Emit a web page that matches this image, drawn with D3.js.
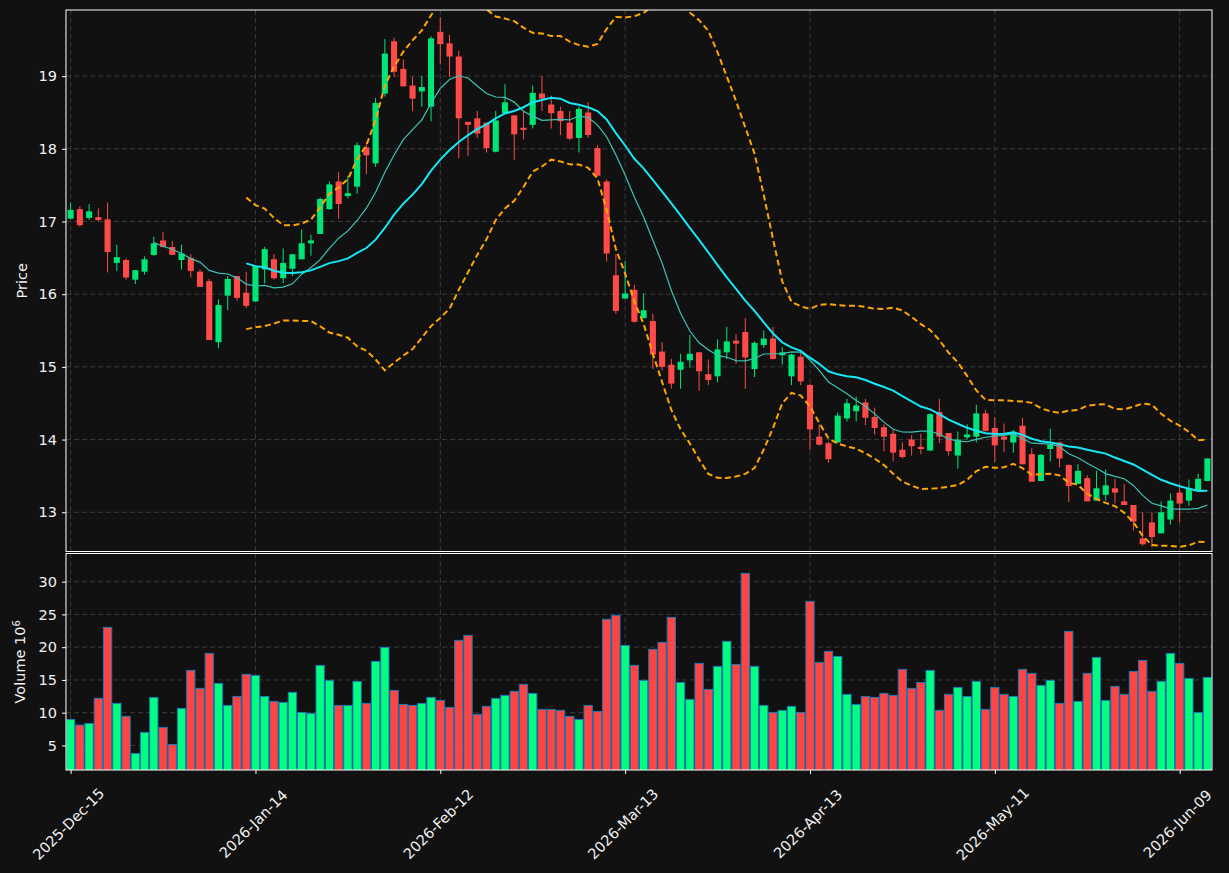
<!DOCTYPE html>
<html>
<head>
<meta charset="utf-8">
<script src="https://cdn.jsdelivr.net/npm/d3@7/dist/d3.min.js"></script>
<style>
  body { margin: 0; background: #111111; }
  svg text { font-family: "DejaVu Sans", sans-serif; fill: #f2f2f2; }
</style>
</head>
<body>
<div id="chart"></div>
<script>
// trading calendar
const startDate = "2025-12-15";
const holidays = ["2025-12-25", "2026-01-01", "2026-01-19", "2026-02-16", "2026-04-03", "2026-05-25"];

// OHLC in dollars, volume in millions
const opens = [17.04,17.17,17.05,17.06,17.03,16.43,16.47,16.20,16.31,16.54,16.74,16.65,16.47,16.50,16.31,16.18,15.34,15.98,16.25,16.02,
  15.90,16.34,16.48,16.22,16.35,16.48,16.70,16.83,17.17,17.55,17.35,17.48,18.02,17.80,18.76,19.48,19.10,18.87,18.79,18.58,
  19.61,19.45,19.27,18.37,18.42,18.36,17.96,18.49,18.46,18.29,18.33,18.76,18.61,18.52,18.36,18.15,18.50,18.01,17.55,16.26,
  15.94,16.06,15.67,15.63,15.21,15.03,14.96,15.09,15.20,14.90,14.87,15.20,15.36,15.48,14.97,15.30,15.39,15.16,14.87,15.14,
  14.75,14.04,13.95,13.96,14.29,14.39,14.51,14.31,14.17,14.08,13.86,14.00,13.90,13.85,14.38,14.09,13.78,14.03,14.04,14.36,
  14.16,14.04,13.96,14.19,13.80,13.43,13.87,13.96,13.65,13.39,13.47,13.16,13.24,13.33,13.15,13.10,12.64,12.86,12.71,12.90,
  13.27,13.16,13.29,13.43];
const highs = [17.26,17.21,17.24,17.18,17.26,16.68,16.49,16.33,16.52,16.79,16.86,16.73,16.68,16.55,16.34,16.21,15.93,16.25,16.25,16.31,
  16.39,16.65,16.55,16.63,16.55,16.89,16.82,17.33,17.55,17.68,17.63,18.09,18.09,18.70,19.51,19.53,19.23,18.99,19.00,19.55,
  19.81,19.57,19.35,18.37,18.52,18.36,18.52,18.89,18.46,18.51,18.87,19.00,18.73,18.58,18.52,18.58,18.64,18.05,17.58,16.55,
  16.45,16.13,16.01,15.73,15.34,15.11,15.18,15.44,15.20,15.10,15.38,15.55,15.45,15.67,15.35,15.50,15.55,15.27,15.18,15.20,
  14.77,14.21,13.97,14.37,14.56,14.59,14.56,14.44,14.21,14.13,13.96,14.06,14.08,14.36,14.56,14.09,14.11,14.21,14.48,14.41,
  14.31,14.22,14.13,14.30,13.88,13.80,14.15,13.97,13.66,13.66,13.51,13.57,13.59,13.46,13.39,13.10,13.00,13.00,13.15,13.26,
  13.39,13.45,13.53,13.74];
const lows = [17.03,16.93,17.02,17.00,16.30,16.32,16.20,16.14,16.27,16.53,16.64,16.54,16.34,16.23,16.10,15.37,15.26,15.78,15.91,15.81,
  15.90,16.15,16.20,16.15,16.25,16.48,16.53,16.83,17.16,17.04,17.32,17.38,17.65,17.75,18.72,18.99,18.86,18.52,18.58,18.38,
  19.16,18.99,17.87,17.90,18.15,17.95,17.95,18.49,17.85,18.13,18.28,18.52,18.28,18.19,18.12,17.95,18.15,17.62,16.45,15.73,
  15.94,15.61,15.67,14.97,14.95,14.70,14.70,14.99,14.67,14.75,14.79,15.11,15.04,14.70,14.86,15.26,15.10,15.03,14.75,14.75,
  13.86,13.92,13.68,13.96,14.25,14.25,14.20,14.07,13.84,13.70,13.74,13.78,13.80,13.84,13.95,13.78,13.60,14.00,13.96,14.11,
  13.69,13.83,13.82,13.66,13.42,13.43,13.70,13.62,13.14,13.39,13.15,13.16,13.16,13.12,13.10,12.75,12.54,12.52,12.71,12.83,
  12.86,13.09,13.28,13.43];
const closes = [17.16,16.95,17.14,17.02,16.58,16.51,16.23,16.33,16.48,16.70,16.65,16.54,16.56,16.32,16.10,15.37,15.85,16.21,15.95,15.84,
  16.39,16.62,16.22,16.43,16.55,16.70,16.74,17.31,17.51,17.24,17.39,18.05,17.91,18.63,19.31,19.06,18.86,18.69,18.85,19.52,
  19.44,19.27,18.42,18.33,18.21,18.01,18.39,18.64,18.20,18.26,18.77,18.69,18.49,18.38,18.14,18.55,18.19,17.63,16.56,15.77,
  16.01,15.62,15.78,15.17,15.00,14.77,15.07,15.18,14.94,14.82,15.24,15.35,15.32,15.13,15.33,15.39,15.11,15.20,15.17,14.80,
  14.14,13.93,13.73,14.33,14.50,14.47,14.30,14.16,14.04,13.82,13.76,13.91,13.87,14.35,14.04,13.84,14.00,14.07,14.36,14.12,
  13.92,14.00,14.11,13.66,13.42,13.79,13.93,13.74,13.36,13.57,13.15,13.33,13.37,13.27,13.10,12.87,12.56,12.66,13.00,13.16,
  13.12,13.33,13.46,13.74];
const volumes = [8.97,8.11,8.36,12.18,23.02,11.42,9.43,3.78,6.99,12.33,7.75,5.15,10.65,16.46,13.71,19.05,14.47,11.11,12.48,15.85,
  15.69,12.48,11.72,11.57,13.10,10.04,9.89,17.22,14.93,11.11,11.11,14.78,11.42,17.83,19.97,13.40,11.26,11.11,11.42,12.33,
  11.87,10.80,21.04,21.80,9.73,10.96,12.18,12.64,13.25,14.32,12.94,10.50,10.50,10.35,9.43,8.97,11.11,10.19,24.25,24.86,
  20.27,17.22,14.93,19.67,20.73,24.55,14.62,12.03,17.53,13.55,17.07,20.89,17.37,31.27,17.07,11.11,10.04,10.35,10.96,10.04,
  27.00,17.68,19.36,18.59,12.79,11.26,12.48,12.33,12.94,12.64,16.61,13.71,14.62,16.46,10.35,12.79,13.86,12.48,14.78,10.50,
  13.86,12.79,12.48,16.61,16.00,14.17,14.93,11.42,22.41,11.72,16.00,18.44,11.87,14.01,12.79,16.30,17.98,13.25,14.78,19.05,
  17.53,15.23,10.04,15.39];

const priceTicks = [13, 14, 15, 16, 17, 18, 19];
const volumeTicks = [5, 10, 15, 20, 25, 30];
const shortMav = 10, longMav = 20, bandStd = 2;

// build the date list from the trading calendar
const parseDay = d3.utcParse("%Y-%m-%d");
const fmtKey = d3.utcFormat("%Y-%m-%d");
const dates = [];
let day = parseDay(startDate);
while (dates.length < closes.length) {
    const wd = day.getUTCDay();
    if (wd !== 0 && wd !== 6 && !holidays.includes(fmtKey(day))) dates.push(day);
    day = d3.utcDay.offset(day, 1);
}
const fmtTick = d3.utcFormat("%Y-%b-%d");

const candles = closes.map((c, i) => ({i: i, date: dates[i], o: opens[i], h: highs[i], l: lows[i], c: c, v: volumes[i]}));

// moving averages and bands
function rollMean(n) {
    return closes.map((c, i) => i < n - 1 ? null : d3.mean(closes.slice(i - n + 1, i + 1)));
}
const mavShort = rollMean(shortMav);
const mavLong = rollMean(longMav);
const bandUp = [], bandDn = [];
closes.forEach((c, i) => {
    if (i < longMav - 1) { bandUp.push(null); bandDn.push(null); return; }
    const win = closes.slice(i - longMav + 1, i + 1);
    const m = mavLong[i];
    const sd = Math.sqrt(d3.mean(win, v => (v - m) * (v - m)));
    bandUp.push(m + bandStd * sd);
    bandDn.push(m - bandStd * sd);
});

const W = 1229, H = 873;
const left = 66, right = 1212;
const pTop = 10, pBot = 551.5, vTop = 553.5, vBot = 770;

const svg = d3.select("#chart").append("svg")
    .attr("width", W).attr("height", H)
    .style("background", "#111111");

const x = d3.scaleLinear().domain([-0.5, closes.length - 0.5]).range([left, right]);
const step = x(1) - x(0);
const yP = d3.scaleLinear().domain([12.46, 19.91]).range([pBot, pTop]);
const yV = d3.scaleLinear().domain([1.25, 34.3]).range([vBot, vTop]);

const up = "#00e676", down = "#ff4a4a";
const volUp = "#00ff80", volDown = "#ff4444";
const gridColor = "#3a3a3a";
const fontSize = "14.5px";

svg.append("clipPath").attr("id", "clipP").append("rect")
    .attr("x", left).attr("y", pTop).attr("width", right - left).attr("height", pBot - pTop);
svg.append("clipPath").attr("id", "clipV").append("rect")
    .attr("x", left).attr("y", vTop).attr("width", right - left).attr("height", vBot - vTop);

const xTickIdx = d3.range(0, closes.length, 20);

// grids
function grid(g, yScale, ticks, y0, y1) {
    g.selectAll(".hg").data(ticks).join("line")
        .attr("x1", left).attr("x2", right)
        .attr("y1", d => yScale(d)).attr("y2", d => yScale(d))
        .attr("stroke", gridColor).attr("stroke-dasharray", "5,3").attr("stroke-width", 1);
    g.selectAll(".vg").data(xTickIdx).join("line").attr("class", "vg")
        .attr("x1", d => x(d)).attr("x2", d => x(d))
        .attr("y1", y0).attr("y2", y1)
        .attr("stroke", gridColor).attr("stroke-dasharray", "5,3").attr("stroke-width", 1);
}
grid(svg.append("g"), yP, priceTicks, pTop, pBot);
grid(svg.append("g"), yV, volumeTicks, vTop, vBot);

// candles
const cg = svg.append("g").attr("clip-path", "url(#clipP)");
cg.selectAll(".wick").data(candles).join("line")
    .attr("x1", d => x(d.i)).attr("x2", d => x(d.i))
    .attr("y1", d => yP(d.h)).attr("y2", d => yP(d.l))
    .attr("stroke", d => d.c >= d.o ? up : down).attr("stroke-width", 1);
const bodyW = step * 0.66;
cg.selectAll(".body").data(candles).join("rect")
    .attr("x", d => x(d.i) - bodyW / 2).attr("width", bodyW)
    .attr("y", d => yP(Math.max(d.o, d.c)))
    .attr("height", d => Math.max(1, Math.abs(yP(d.o) - yP(d.c))))
    .attr("fill", d => d.c >= d.o ? up : down);

// lines
function lineOf(vals) {
    return d3.line().defined(d => d != null).x((d, i) => x(i)).y(d => yP(d))(vals);
}
cg.append("path").attr("d", lineOf(bandUp)).attr("fill", "none")
    .attr("stroke", "#ffa500").attr("stroke-width", 2).attr("stroke-dasharray", "6,3.5");
cg.append("path").attr("d", lineOf(bandDn)).attr("fill", "none")
    .attr("stroke", "#ffa500").attr("stroke-width", 2).attr("stroke-dasharray", "6,3.5");
cg.append("path").attr("d", lineOf(mavShort)).attr("fill", "none")
    .attr("stroke", "#3cc4b4").attr("stroke-width", 1.2);
cg.append("path").attr("d", lineOf(mavLong)).attr("fill", "none")
    .attr("stroke", "#16e6f5").attr("stroke-width", 2);

// volume
const vg = svg.append("g").attr("clip-path", "url(#clipV)");
const volW = step * 0.9;
vg.selectAll("rect").data(candles).join("rect")
    .attr("x", d => x(d.i) - volW / 2).attr("width", volW)
    .attr("y", d => yV(d.v)).attr("height", d => vBot + 2 - yV(d.v))
    .attr("fill", d => d.c >= d.o ? volUp : volDown)
    .attr("stroke", "#1f77b4").attr("stroke-width", 1);

// frames
[[pTop, pBot], [vTop, vBot]].forEach(([a, b]) => {
    svg.append("rect").attr("x", left).attr("y", a).attr("width", right - left).attr("height", b - a)
        .attr("fill", "none").attr("stroke", "#ffffff").attr("stroke-width", 1);
});

// axes
const axP = svg.append("g").attr("transform", `translate(${left},0)`)
    .call(d3.axisLeft(yP).tickValues(priceTicks).tickSize(4).tickPadding(5).tickFormat(d3.format("d")));
const axV = svg.append("g").attr("transform", `translate(${left},0)`)
    .call(d3.axisLeft(yV).tickValues(volumeTicks).tickSize(4).tickPadding(5).tickFormat(d3.format("d")));
const axX = svg.append("g").attr("transform", `translate(0,${vBot})`)
    .call(d3.axisBottom(x).tickValues(xTickIdx).tickSize(4).tickFormat(""));
[axP, axV, axX].forEach(a => {
    a.select(".domain").remove();
    a.selectAll(".tick line").attr("stroke", "#ffffff");
    a.selectAll("text").style("font-size", fontSize).attr("fill", "#f2f2f2");
});

svg.append("g").selectAll("text").data(xTickIdx).join("text")
    .attr("transform", d => `translate(${x(d) - 2},824) rotate(-45)`)
    .attr("text-anchor", "middle").attr("dominant-baseline", "central")
    .style("font-size", fontSize)
    .text(d => fmtTick(dates[d]));

// axis titles
svg.append("text").attr("transform", `translate(22,${(pTop + pBot) / 2}) rotate(-90)`)
    .attr("text-anchor", "middle").attr("dominant-baseline", "central")
    .style("font-size", fontSize).text("Price");
const vt = svg.append("text").attr("transform", `translate(20,${(vTop + vBot) / 2}) rotate(-90)`)
    .attr("text-anchor", "middle").attr("dominant-baseline", "central")
    .style("font-size", fontSize);
vt.append("tspan").text("Volume  10");
vt.append("tspan").attr("dy", "-0.45em").style("font-size", "10px").text("6");
</script>
</body>
</html>
